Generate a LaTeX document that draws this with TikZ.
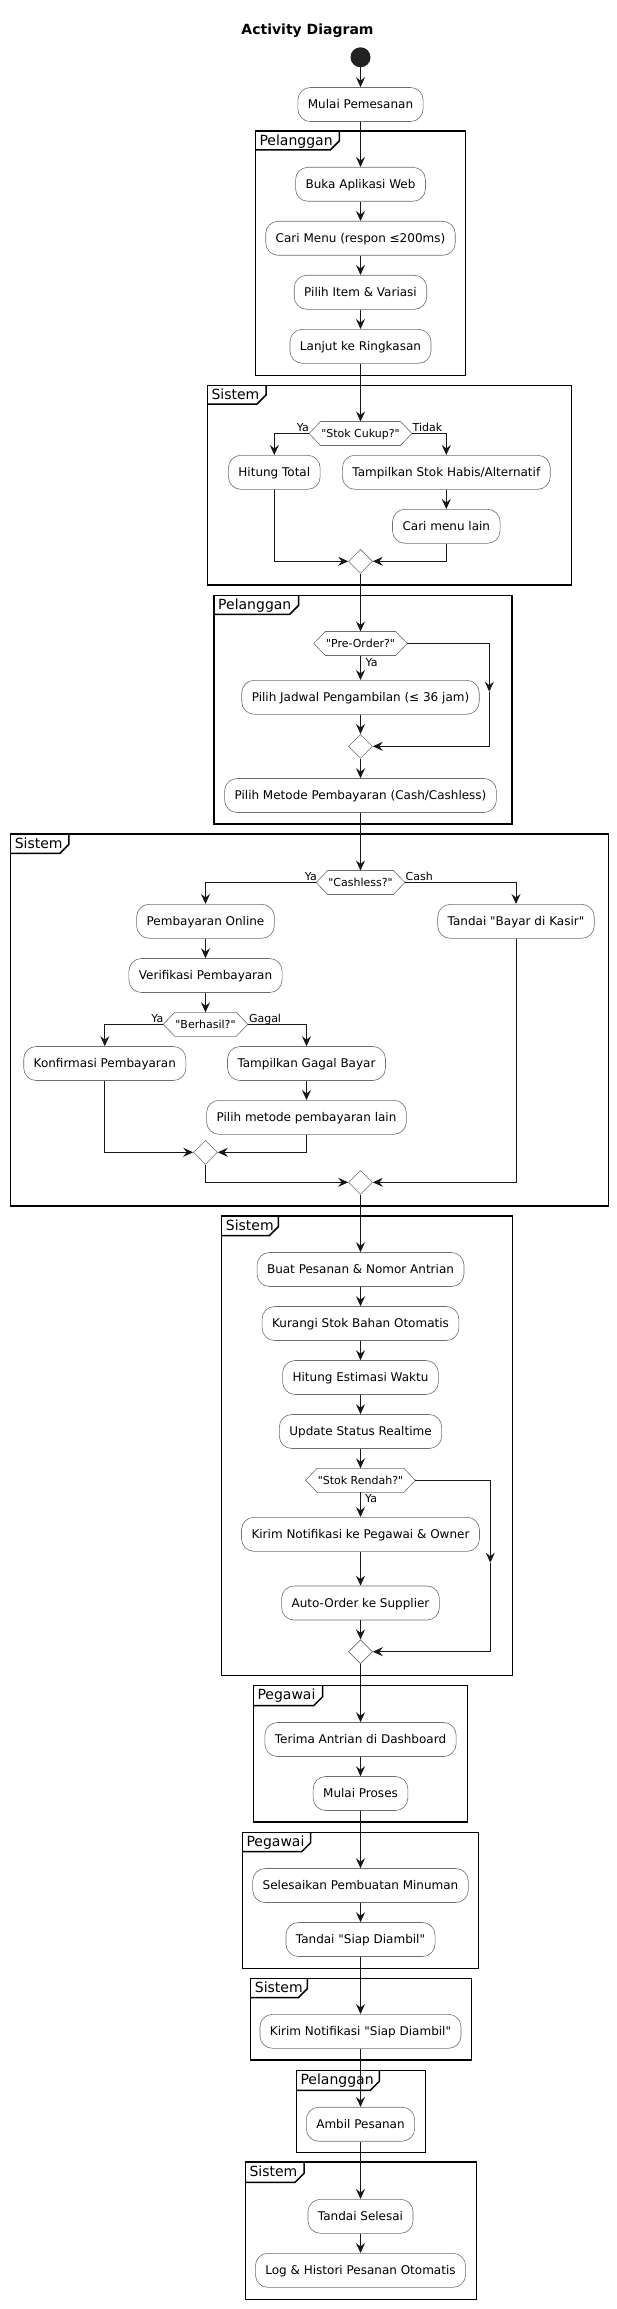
\documentclass[tikz,border=0pt]{standalone}
\usepackage{fontspec}
\setmainfont{DejaVu Sans}[Ligatures=TeXOff]
\usetikzlibrary{arrows.meta,shapes.geometric,calc}
\definecolor{arrowc}{RGB}{24,24,24}
\definecolor{boxline}{RGB}{110,110,110}
\definecolor{startc}{RGB}{34,34,34}
\newcommand\umlframe[8]{%
  \draw[framel] (#2,#3) rectangle (#4,#5);
  \draw[framel] (#2,#7) -- ({#6-9},#7) -- (#6,{#7-9}) -- (#6,#3);
  \node[framelbl, anchor=base west] (#1) at ({#2+4},{#3+14.5}) {#8};
}
\newcommand\drawhex[1]{%
  \draw[decline] (#1.west) -- ([xshift=11.5pt]#1.north west) -- ([xshift=-11.5pt]#1.north east) -- (#1.east) -- ([xshift=-11.5pt]#1.south east) -- ([xshift=11.5pt]#1.south west) -- cycle;
}
\begin{document}
\begin{tikzpicture}[x=1pt,y=-1pt,
  box/.style={draw=boxline, line width=0.6pt, fill=white, rounded corners=12.5pt,
    minimum height=34pt, inner xsep=10pt, inner ysep=0pt,
    font=\fontsize{12}{14}\selectfont, text height=9pt, text depth=0.2pt},
  dec/.style={rectangle, draw=none, minimum height=23.6pt, inner xsep=12pt, inner ysep=0pt,
    font=\fontsize{11}{13}\selectfont, text height=8pt, text depth=0.2pt},
  decline/.style={draw=boxline, line width=0.6pt},
  merge/.style={diamond, draw=boxline, line width=0.6pt, fill=white, minimum width=24pt,
    minimum height=24pt, inner sep=0pt},
  arr/.style={draw=arrowc, line width=1pt, -{Stealth[length=10pt,width=9pt,inset=3.5pt]}},
  lbl/.style={font=\fontsize{11}{13}\selectfont, inner sep=0pt},
  framel/.style={draw=black, line width=1.5pt},
  framelbl/.style={font=\fontsize{14}{16}\selectfont, inner sep=0pt}
]
\useasboundingbox[fill=white] (0,0) rectangle (617,2309);

% frames
\umlframe{fP1}{255.3}{131}{465.3}{375.3}{339.3}{150}{Pelanggan}
\umlframe{fS1}{207.3}{385.3}{571.5}{585}{266}{404}{Sistem}
\umlframe{fP2}{214}{595.3}{512}{824}{298.7}{614.3}{Pelanggan}
\umlframe{fS2}{10.6}{834}{608.3}{1206}{68.9}{853.3}{Sistem}
\umlframe{fS3}{221.7}{1216}{512.7}{1675.3}{278.3}{1235.7}{Sistem}
\umlframe{fG1}{253.3}{1685.3}{467.3}{1822}{322.7}{1705.7}{Pegawai}
\umlframe{fG2}{242.3}{1832.3}{478.7}{1968.3}{310.7}{1851.7}{Pegawai}
\umlframe{fS4}{250.7}{1978.3}{471.7}{2060}{307.3}{1997.7}{Sistem}
\umlframe{fP3}{296.3}{2070.3}{425.3}{2152.3}{379.3}{2090.3}{Pelanggan}
\umlframe{fS5}{245.3}{2162}{476.7}{2299.3}{304}{2182.3}{Sistem}

% title and start
\node[font=\fontsize{14}{16}\selectfont\bfseries, anchor=base, inner sep=0pt] (title) at (307.5,34.5) {Activity Diagram};
\node[circle, fill=startc, minimum size=20pt, inner sep=0pt] (start) at (360.5,57.3) {};

% nodes
\node[box] (mulai) at (360.5,104.5) {Mulai Pemesanan};
\node[box] (buka) at (360.5,184.3) {Buka Aplikasi Web};
\node[box] (cari) at (360.5,238.3) {Cari Menu (respon ≤200ms)};
\node[box] (pilih) at (360.5,292.3) {Pilih Item \& Variasi};
\node[box] (lanjut) at (360.5,346.3) {Lanjut ke Ringkasan};
\node[dec] (dStok) at (360.5,433.5) {"Stok Cukup?"};
\node[box] (hitung) at (274.3,472.3) {Hitung Total};
\node[box] (tampil) at (446.3,472.3) {Tampilkan Stok Habis/Alternatif};
\node[box] (carilain) at (446.3,526.3) {Cari menu lain};
\node[merge] (m1) at (360.5,561.3) {};
\node[dec] (dPre) at (360.5,643.5) {"Pre-Order?"};
\node[box] (jadwal) at (360.5,697.3) {Pilih Jadwal Pengambilan (≤ 36 jam)};
\node[merge] (m2) at (360.5,746.3) {};
\coordinate (preMid) at (489.3,691.7);
\node[box] (metode) at (360.5,795.5) {Pilih Metode Pembayaran (Cash/Cashless)};
\node[dec] (dCash) at (360.5,882.5) {"Cashless?"};
\node[box] (online) at (205.5,921.3) {Pembayaran Online};
\node[box] (kasir) at (516,921.3) {Tandai "Bayar di Kasir"};
\node[box] (verif) at (205.5,975.5) {Verifikasi Pembayaran};
\node[dec] (dBerhasil) at (205.5,1024.3) {"Berhasil?"};
\node[box] (konfirmasi) at (104.8,1063.5) {Konfirmasi Pembayaran};
\node[box] (gagal) at (306.5,1063.5) {Tampilkan Gagal Bayar};
\node[box] (lain) at (306.5,1117.3) {Pilih metode pembayaran lain};
\node[merge] (m3) at (205.5,1152.3) {};
\node[merge] (m4) at (360.5,1182.3) {};
\node[box] (buat) at (360.5,1269.5) {Buat Pesanan \& Nomor Antrian};
\node[box] (kurangi) at (360.5,1323.5) {Kurangi Stok Bahan Otomatis};
\node[box] (estimasi) at (360.5,1377.5) {Hitung Estimasi Waktu};
\node[box] (update) at (360.5,1431.5) {Update Status Realtime};
\node[dec] (dRendah) at (360.5,1480.3) {"Stok Rendah?"};
\node[box] (kirim) at (360.5,1534.3) {Kirim Notifikasi ke Pegawai \& Owner};
\node[box] (auto) at (360.5,1603) {Auto-Order ke Supplier};
\coordinate (rendahMid) at (490.3,1562.7);
\node[merge] (m5) at (360.5,1651.7) {};
\node[box] (terima) at (360.5,1739.5) {Terima Antrian di Dashboard};
\node[box] (proses) at (360.5,1793.5) {Mulai Proses};
\node[box] (selesaikan) at (360.5,1885.5) {Selesaikan Pembuatan Minuman};
\node[box] (siap) at (360.5,1939.5) {Tandai "Siap Diambil"};
\node[box] (notif) at (360.5,2031.3) {Kirim Notifikasi "Siap Diambil"};
\node[box] (ambil) at (360.5,2124.2) {Ambil Pesanan};
\node[box] (tselesai) at (360.5,2216.3) {Tandai Selesai};
\node[box] (log) at (360.5,2270.3) {Log \& Histori Pesanan Otomatis};

\drawhex{dStok}
\drawhex{dPre}
\drawhex{dCash}
\drawhex{dBerhasil}
\drawhex{dRendah}

% straight connectors
\foreach \a/\b in {start/mulai, mulai/buka, buka/cari, cari/pilih, pilih/lanjut, lanjut/dStok,
  tampil/carilain, m1/dPre, dPre/jadwal, jadwal/m2, m2/metode, metode/dCash,
  online/verif, verif/dBerhasil, gagal/lain, m4/buat, buat/kurangi, kurangi/estimasi,
  estimasi/update, update/dRendah, dRendah/kirim, kirim/auto, auto/m5, m5/terima,
  terima/proses, proses/selesaikan, selesaikan/siap, siap/notif, notif/ambil,
  ambil/tselesai, tselesai/log}
  \draw[arr] (\a) -- (\b);

% branch connectors
\draw[arr] (dStok.west) -| (hitung.north);
\draw[arr] (dStok.east) -| (tampil.north);
\draw[arr] (hitung.south) |- (m1.west);
\draw[arr] (carilain.south) |- (m1.east);
\draw[arr] (dPre.east) -| (preMid);
\draw[arr] (preMid) |- (m2.east);
\draw[arr] (dCash.west) -| (online.north);
\draw[arr] (dCash.east) -| (kasir.north);
\draw[arr] (dBerhasil.west) -| (konfirmasi.north);
\draw[arr] (dBerhasil.east) -| (gagal.north);
\draw[arr] (konfirmasi.south) |- (m3.west);
\draw[arr] (lain.south) |- (m3.east);
\draw[arr] (m3.south) |- (m4.west);
\draw[arr] (kasir.south) |- (m4.east);
\draw[arr] (dRendah.east) -| (rendahMid);
\draw[arr] (rendahMid) |- (m5.east);

% branch labels
\node[lbl, anchor=base east] (lYa1) at (309,431.5) {Ya};
\node[lbl, anchor=base west] (lTidak) at (412.5,431.5) {Tidak};
\node[lbl, anchor=base west] (lYa2) at (365.5,666.5) {Ya};
\node[lbl, anchor=base east] (lYa3) at (317,880) {Ya};
\node[lbl, anchor=base west] (lCash) at (405.5,880) {Cash};
\node[lbl, anchor=base east] (lYa4) at (163.5,1022) {Ya};
\node[lbl, anchor=base west] (lGagal) at (248.8,1022) {Gagal};
\node[lbl, anchor=base west] (lYa5) at (365,1502.3) {Ya};
\end{tikzpicture}
\end{document}
